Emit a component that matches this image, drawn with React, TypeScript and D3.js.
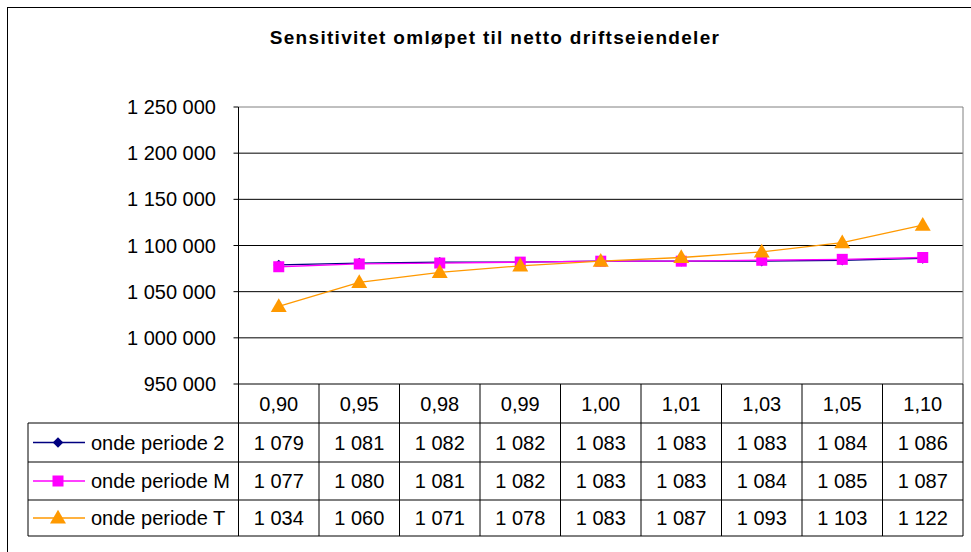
import React from "react";
import * as d3 from "d3";

const categories = ["0,90", "0,95", "0,98", "0,99", "1,00", "1,01", "1,03", "1,05", "1,10"];
const seriesNames = ["onde periode 2", "onde periode M", "onde periode T"];
const seriesColors = ["#000080", "#FF00FF", "#FF9900"];
const periode2 = [1079, 1081, 1082, 1082, 1083, 1083, 1083, 1084, 1086];
const periodeM = [1077, 1080, 1081, 1082, 1083, 1083, 1084, 1085, 1087];
const periodeT = [1034, 1060, 1071, 1078, 1083, 1087, 1093, 1103, 1122];
const yTicks = [950000, 1000000, 1050000, 1100000, 1150000, 1200000, 1250000];

const allSeries = [periode2, periodeM, periodeT];
const FONT = "'Liberation Sans', Arial, sans-serif";

const fmt = (v: number) => {
  const s = String(Math.round(v));
  return s.replace(/\B(?=(\d{3})+(?!\d))/g, " ");
};

function Marker({ kind, x, y, color }: { kind: number; x: number; y: number; color: string }) {
  if (kind === 0) {
    const path = d3.symbol().type(d3.symbolDiamond2).size(70)();
    return <path d={path || ""} transform={`translate(${x},${y})`} fill={color} />;
  }
  if (kind === 1) {
    return <rect x={x - 5.5} y={y - 5.5} width={11} height={11} fill={color} />;
  }
  const path = d3.symbol().type(d3.symbolTriangle).size(110)();
  return <path d={path || ""} transform={`translate(${x},${y + 1})`} fill={color} />;
}

export default function App() {
  const left = 238.5;
  const right = 963;
  const top = 107;
  const bottom = 384;
  const fs = 20;

  const x = d3.scaleBand<string>().domain(categories).range([left, right]);
  const y = d3.scaleLinear().domain([950000, 1250000]).range([bottom, top]);

  const rowTops = [384, 423, 462, 500, 536];
  const tableLeft = 28;

  const line = d3
    .line<number>()
    .x((_, i) => (x(categories[i]) as number) + x.bandwidth() / 2)
    .y((d) => y(d * 1000));

  return (
    <svg width={971} height={552} style={{ position: "absolute", left: 0, top: 0, background: "#fff" }} fontFamily={FONT}>
      <rect x={7.5} y={7.5} width={1000} height={600} fill="#fff" stroke="#000" strokeWidth={1} />
      <text x={495} y={44} textAnchor="middle" fontSize={19} fontWeight="bold" letterSpacing={1.3} fill="#000">
        Sensitivitet omløpet til netto driftseiendeler
      </text>

      {/* gridlines */}
      {yTicks.map((t) => (
        <g key={t}>
          {t > 950000 && t < 1250000 && (
            <line x1={left} x2={right} y1={y(t)} y2={y(t)} stroke="#000" strokeWidth={1} />
          )}
          <line x1={left - 5} x2={left} y1={y(t)} y2={y(t)} stroke="#000" />
          <text x={216} y={y(t)} dy="0.35em" textAnchor="end" fontSize={fs} fill="#000">
            {fmt(t)}
          </text>
        </g>
      ))}
      <line x1={left} x2={right} y1={top} y2={top} stroke="#808080" />
      <line x1={right} x2={right} y1={top} y2={bottom} stroke="#808080" />
      <line x1={left} x2={left} y1={top} y2={bottom} stroke="#000" />

      {/* series */}
      {allSeries.map((s, si) => (
        <g key={si}>
          <path d={line(s) || ""} fill="none" stroke={seriesColors[si]} strokeWidth={1.3} />
          {s.map((v, i) => (
            <Marker key={i} kind={si} x={(x(categories[i]) as number) + x.bandwidth() / 2} y={y(v * 1000)} color={seriesColors[si]} />
          ))}
        </g>
      ))}

      {/* data table */}
      <line x1={left} x2={right} y1={bottom} y2={bottom} stroke="#000" />
      {rowTops.slice(1).map((ry) => (
        <line key={ry} x1={tableLeft} x2={right} y1={ry} y2={ry} stroke="#000" />
      ))}
      <line x1={tableLeft} x2={tableLeft} y1={rowTops[1]} y2={rowTops[4]} stroke="#000" />
      {categories.map((c) => (
        <line key={c} x1={x(c) as number} x2={x(c) as number} y1={bottom} y2={rowTops[4]} stroke="#000" />
      ))}
      <line x1={right} x2={right} y1={bottom} y2={rowTops[4]} stroke="#000" />
      {categories.map((c) => (
        <text key={c} x={(x(c) as number) + x.bandwidth() / 2} y={(rowTops[0] + rowTops[1]) / 2} dy="0.35em" textAnchor="middle" fontSize={fs} fill="#000">
          {c}
        </text>
      ))}
      {allSeries.map((s, si) => {
        const cy = (rowTops[si + 1] + rowTops[si + 2]) / 2;
        return (
          <g key={si}>
            <line x1={33} x2={85} y1={cy} y2={cy} stroke={seriesColors[si]} strokeWidth={1.3} />
            <Marker kind={si} x={58} y={cy} color={seriesColors[si]} />
            <text x={91} y={cy} dy="0.35em" fontSize={fs} fill="#000">
              {seriesNames[si]}
            </text>
            {s.map((v, i) => (
              <text key={i} x={(x(categories[i]) as number) + x.bandwidth() / 2} y={cy} dy="0.35em" textAnchor="middle" fontSize={fs} fill="#000">
                {fmt(v)}
              </text>
            ))}
          </g>
        );
      })}
    </svg>
  );
}
